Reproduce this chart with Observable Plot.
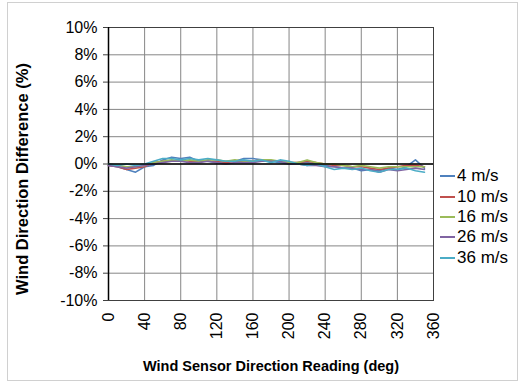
<!DOCTYPE html>
<html>
<head>
<meta charset="utf-8">
<script src="https://cdn.jsdelivr.net/npm/d3@7"></script>
<script src="https://cdn.jsdelivr.net/npm/@observablehq/plot@0.6"></script>
<style>
  html, body { margin: 0; padding: 0; background: #fff; }
  body { font-family: "Liberation Sans", Arial, sans-serif; }
  #wrap { position: relative; width: 526px; height: 385px; overflow: hidden; }
  #border { position: absolute; left: 7px; top: 2px; width: 511px; height: 379px; border: 1px solid #d0d0d0; box-sizing: border-box; pointer-events: none; }
  #chart svg { display: block; }
  #legend { position: absolute; left: 440px; top: 166px; font-size: 17px; color: #000; }
  #legend .row { height: 20.4px; display: flex; align-items: center; }
  #legend .sw { width: 15px; height: 2px; margin-right: 2px; }
</style>
</head>
<body>
<div id="wrap">
  <div id="chart"></div>
  <div id="legend"></div>
  <div id="border"></div>
</div>
<script>
const angles = [0,10,20,30,40,50,60,70,80,90,100,110,120,130,140,150,160,170,180,190,200,210,220,230,240,250,260,270,280,290,300,310,320,330,340,350];
const seriesNames = ["4 m/s","10 m/s","16 m/s","26 m/s","36 m/s"];
const seriesColors = ["#4F81BD","#C0504D","#9BBB59","#8064A2","#4BACC6"];
const s4  = [-0.1,-0.2,-0.4,-0.6,-0.2,-0.1,0.3,0.5,0.4,0.5,0.2,0.2,0.1,0.2,0.2,0.4,0.4,0.3,0.2,0.1,0.0,0.1,0.1,0.0,-0.1,-0.2,-0.3,-0.3,-0.5,-0.4,-0.5,-0.3,-0.4,-0.2,0.3,-0.3];
const s10 = [-0.1,-0.2,-0.4,-0.3,-0.2,0.1,0.2,0.2,0.3,0.2,0.2,0.2,0.2,0.1,0.2,0.2,0.2,0.3,0.2,0.2,0.1,0.1,0.2,0.1,0.0,-0.1,-0.1,-0.2,-0.2,-0.3,-0.4,-0.3,-0.2,-0.1,-0.1,-0.2];
const s16 = [0.0,-0.1,-0.2,-0.2,-0.1,0.1,0.2,0.3,0.2,0.3,0.2,0.3,0.3,0.2,0.3,0.2,0.2,0.3,0.3,0.2,0.1,0.1,0.3,0.1,0.0,0.0,-0.1,-0.2,-0.1,-0.2,-0.3,-0.2,-0.2,-0.2,-0.2,-0.2];
const s26 = [-0.1,-0.2,-0.3,-0.2,-0.1,0.0,0.1,0.2,0.2,0.1,0.1,0.2,0.1,0.0,0.1,0.1,0.1,0.2,0.2,0.2,0.0,0.0,-0.1,-0.1,-0.2,-0.2,-0.3,-0.3,-0.4,-0.4,-0.6,-0.4,-0.5,-0.4,-0.3,-0.4];
const s36 = [0.0,-0.1,0.0,-0.1,0.0,0.2,0.4,0.4,0.3,0.4,0.3,0.4,0.3,0.2,0.2,0.3,0.2,0.3,0.1,0.3,0.2,0.0,-0.1,0.0,-0.2,-0.4,-0.3,-0.4,-0.3,-0.5,-0.6,-0.4,-0.4,-0.3,-0.5,-0.6];
const xTicks = [0,40,80,120,160,200,240,280,320,360];
const yTicks = [-10,-8,-6,-4,-2,0,2,4,6,8,10];
const xTitle = "Wind Sensor Direction Reading (deg)";
const yTitle = "Wind Direction Difference (%)";

const allSeries = [s4, s10, s16, s26, s36];
const rows = [];
allSeries.forEach((vals, i) => vals.forEach((v, j) => rows.push({series: seriesNames[i], x: angles[j], y: v})));

const chart = Plot.plot({
  width: 526,
  height: 385,
  marginLeft: 108,
  marginRight: 93,
  marginTop: 27,
  marginBottom: 85,
  style: {fontFamily: "Liberation Sans, Arial, sans-serif", fontSize: "16px", color: "#000", background: "transparent"},
  x: {domain: [0, 360]},
  y: {domain: [-10, 10]},
  color: {domain: seriesNames, range: seriesColors},
  marks: [
    Plot.gridX(xTicks, {stroke: "#868686", strokeOpacity: 1, strokeWidth: 1}),
    Plot.gridY(yTicks, {stroke: "#868686", strokeOpacity: 1, strokeWidth: 1}),
    Plot.frame({stroke: "#404040", strokeWidth: 1}),
    Plot.ruleX([0], {stroke: "#000", strokeWidth: 1.5}),
    Plot.line(rows, {x: "x", y: "y", z: "series", stroke: "series", strokeWidth: 1.6, curve: "linear"}),
    Plot.ruleY([0], {stroke: "#000", strokeWidth: 1.5}),
    Plot.axisX(xTicks, {tickSize: 0, tickRotate: -90, tickPadding: 12, fontSize: 16, label: null}),
    Plot.axisY(yTicks, {tickSize: 5, tickPadding: 6, stroke: "#404040", fontSize: 16, tickFormat: d => d + "%", label: null}),
    Plot.text([xTitle], {frameAnchor: "bottom", dy: 70, textAnchor: "middle", fontWeight: "bold", fontSize: 14.5, fill: "#000"}),
    Plot.text([yTitle], {frameAnchor: "left", dx: -86, dy: 15, rotate: -90, textAnchor: "middle", fontWeight: "bold", fontSize: 16.5, fill: "#000"})
  ]
});
document.getElementById("chart").appendChild(chart);

const legend = document.getElementById("legend");
seriesNames.forEach((name, i) => {
  const row = document.createElement("div");
  row.className = "row";
  const sw = document.createElement("div");
  sw.className = "sw";
  sw.style.background = seriesColors[i];
  const label = document.createElement("span");
  label.textContent = name;
  row.appendChild(sw);
  row.appendChild(label);
  legend.appendChild(row);
});
</script>
</body>
</html>
